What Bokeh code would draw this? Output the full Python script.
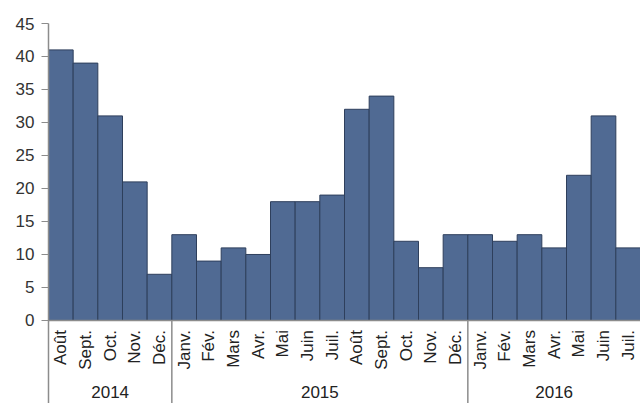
import numpy as np
from bokeh.plotting import figure
from bokeh.models import FixedTicker, Range1d
from bokeh.core.properties import value
from bokeh.embed import file_html
from bokeh.resources import INLINE

months = ["Août", "Sept.", "Oct.", "Nov.", "Déc.",
          "Janv.", "Fév.", "Mars", "Avr.", "Mai", "Juin", "Juil.",
          "Août", "Sept.", "Oct.", "Nov.", "Déc.",
          "Janv.", "Fév.", "Mars", "Avr.", "Mai", "Juin", "Juil."]
counts = [41, 39, 31, 21, 7,
          13, 9, 11, 10, 18, 18, 19, 32, 34, 12, 8, 13,
          13, 12, 13, 11, 22, 31, 11]
years = ["2014", "2015", "2016"]
year_counts = [5, 12, 7]
y_ticks = [0, 5, 10, 15, 20, 25, 30, 35, 40, 45]

FONT = "Liberation Sans"
Y_MIN = -12.58
Y_MAX = 45

idx = np.arange(len(counts)) + 0.5
ends = np.cumsum(year_counts)
starts = ends - np.array(year_counts)
centers = (starts + ends) / 2.0
bounds = ends[:-1]

p = figure(width=640, height=403, output_backend="svg", toolbar_location=None,
           x_range=Range1d(0, len(counts)), y_range=Range1d(Y_MIN, Y_MAX),
           x_axis_location=None, min_border_left=48, min_border_top=23,
           min_border_right=0, min_border_bottom=0)
p.outline_line_color = None
p.grid.visible = False

ax = p.yaxis[0]
ax.ticker = FixedTicker(ticks=y_ticks)
ax.axis_line_color = "#8c8c8c"
ax.axis_line_width = 1.5
ax.major_tick_line_color = "#8c8c8c"
ax.major_tick_out = 7
ax.major_tick_in = 0
ax.minor_tick_line_color = None
ax.major_label_standoff = 7
ax.major_label_text_font = FONT
ax.major_label_text_font_size = "17px"
ax.major_label_text_color = "#333333"

p.vbar(x=idx, top=counts, bottom=0, width=1.0,
       fill_color="#506a93", line_color="#2e3f5c", line_width=1)

# baseline and group separators
p.segment(x0=[0], y0=[0], x1=[len(counts)], y1=[0], line_color="#8c8c8c", line_width=1.5)
p.segment(x0=bounds, y0=[0] * len(bounds), x1=bounds, y1=[Y_MIN] * len(bounds),
          line_color="#8c8c8c", line_width=1.5)

p.text(x=idx, y=[-1.45] * len(months), text=months, angle=np.pi / 2,
       text_align="right", text_baseline="middle",
       text_font=value(FONT), text_font_size="17px", text_color="#222222")
p.text(x=centers, y=[Y_MIN + 0.9] * len(years), text=years,
       text_align="center", text_baseline="bottom",
       text_font=value(FONT), text_font_size="17px", text_color="#222222")

open("out.html", "w").write(file_html(p, INLINE))
